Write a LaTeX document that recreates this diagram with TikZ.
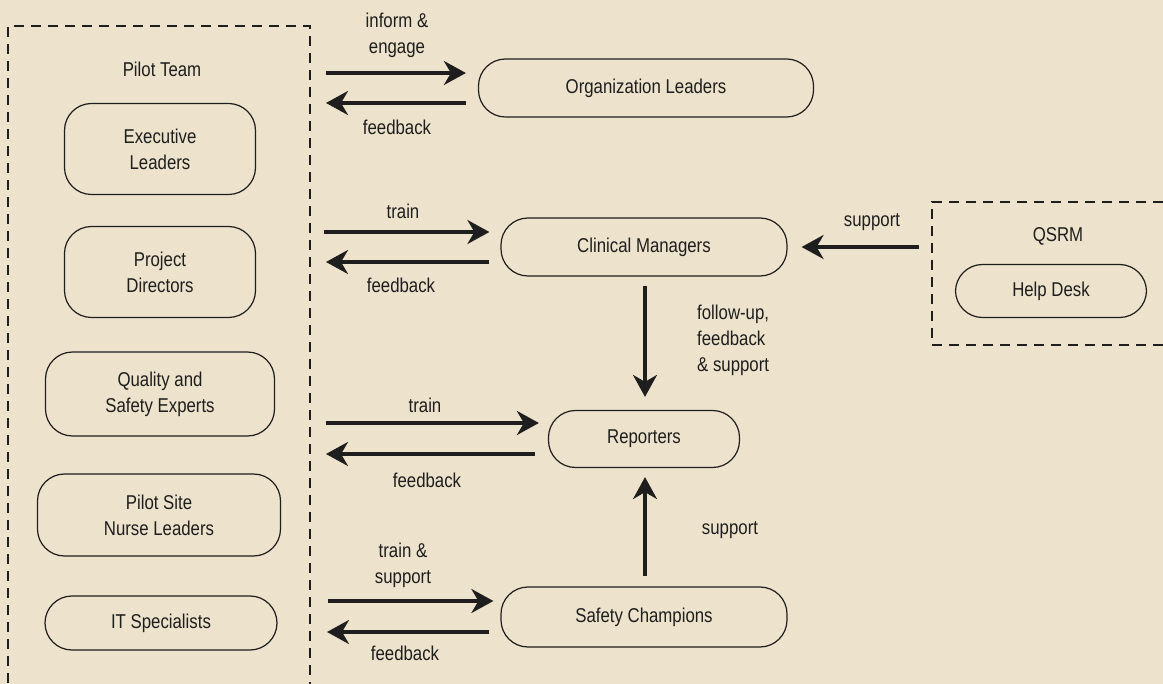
\documentclass[tikz,border=0pt]{standalone}
\usepackage{fontspec}
\setmainfont[FakeStretch=0.84]{Liberation Sans}
\usetikzlibrary{arrows.meta}
\definecolor{paper}{RGB}{237,227,204}
\definecolor{ink}{RGB}{30,30,30}
\begin{document}
\begin{tikzpicture}[x=1pt,y=-1pt,
  every node/.style={font=\fontsize{20}{26}\selectfont, text=ink},
  rolebox/.style={draw=ink, line width=1.2pt, rounded corners=27pt, inner sep=0pt, align=center},
  grouprule/.style={draw=ink, line width=1.2pt, dash pattern=on 10pt off 7pt},
  flow/.style={draw=ink, line width=3.2pt, -{Stealth[length=22pt,width=24pt,inset=7pt]}},
  lbl/.style={inner sep=0pt, align=center}]
\fill[paper] (0,0) rectangle (1163,684);
\useasboundingbox (0,0) rectangle (1163,684);
\clip (0,0) rectangle (1163,684);

% dashed group frames
\draw[grouprule] (8,700) -- (8,26) -- (310,26) -- (310,700);
\draw[grouprule] (1180,202) -- (932,202) -- (932,345) -- (1180,345);

% pilot team members
\node[lbl] (pilotT) at (162,69) {Pilot Team};
\node[rolebox, minimum width=191pt, minimum height=91pt] (exec) at (160,149) {Executive\\Leaders};
\node[rolebox, minimum width=191pt, minimum height=91pt] (proj) at (160,272) {Project\\Directors};
\node[rolebox, minimum width=229pt, minimum height=84pt] (qual) at (160,394) {Quality and\\Safety Experts};
\node[rolebox, minimum width=243pt, minimum height=82pt] (nurse) at (159,515) {Pilot Site\\Nurse Leaders};
\node[rolebox, minimum width=232pt, minimum height=54pt] (it) at (161,623) {IT Specialists};

% stakeholder groups
\node[rolebox, minimum width=335pt, minimum height=58pt] (org) at (646,88) {Organization Leaders};
\node[rolebox, minimum width=286pt, minimum height=58pt] (clin) at (644,247) {Clinical Managers};
\node[rolebox, minimum width=191pt, minimum height=57pt] (rep) at (644,439) {Reporters};
\node[rolebox, minimum width=286pt, minimum height=60pt] (champ) at (644,617) {Safety Champions};

% QSRM
\node[lbl] (qsrmT) at (1058,236) {QSRM};
\node[rolebox, minimum width=191pt, minimum height=53pt] (help) at (1051,291) {Help Desk};

% arrow end points beside the pilot frame
\coordinate (pOrgA) at (326,73);  \coordinate (pOrgB) at (326,103);
\coordinate (pClinA) at (324,232); \coordinate (pClinB) at (326,262);
\coordinate (pRepA) at (326,423);  \coordinate (pRepB) at (326,454);
\coordinate (pChA) at (328,601);   \coordinate (pChB) at (327,632);
\coordinate (qsrmOut) at (919,247);

% pilot team <-> groups
\draw[flow] (pOrgA) -- ([xshift=-12pt]org.west |- pOrgA);
\draw[flow] ([xshift=-12pt]org.west |- pOrgB) -- (pOrgB);
\draw[flow] (pClinA) -- ([xshift=-11pt]clin.west |- pClinA);
\draw[flow] ([xshift=-11pt]clin.west |- pClinB) -- (pClinB);
\draw[flow] (pRepA) -- ([xshift=-9pt]rep.west |- pRepA);
\draw[flow] ([xshift=-13pt]rep.west |- pRepB) -- (pRepB);
\draw[flow] (pChA) -- ([xshift=-7pt]champ.west |- pChA);
\draw[flow] ([xshift=-11pt]champ.west |- pChB) -- (pChB);

% vertical flows
\draw[flow] ([xshift=1pt,yshift=-9pt]clin.south) -- ([xshift=1pt,yshift=13pt]rep.north);
\draw[flow] ([xshift=1pt,yshift=10pt]champ.north) -- ([xshift=1pt,yshift=-9pt]rep.south);
\draw[flow] (qsrmOut) -- ([xshift=14pt]clin.east);

% labels
\node[lbl] at (397,35) {inform \&\\engage};
\node[lbl] at (397,127) {feedback};
\node[lbl] at (403,211) {train};
\node[lbl] at (401,285) {feedback};
\node[lbl, align=left, anchor=west] at (697,340) {follow-up,\\feedback\\\& support};
\node[lbl] at (425,405) {train};
\node[lbl] at (427,480) {feedback};
\node[lbl] at (730,530) {support};
\node[lbl] at (403,565) {train \&\\support};
\node[lbl] at (405,653) {feedback};
\node[lbl] at (872,222) {support};
\end{tikzpicture}
\end{document}
